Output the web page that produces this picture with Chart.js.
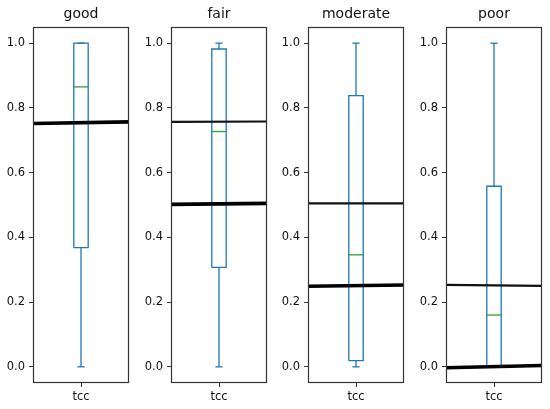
<!DOCTYPE html>
<html>
<head>
<meta charset="utf-8">
<script src="https://cdn.jsdelivr.net/npm/chart.js@4.4.1/dist/chart.umd.min.js"></script>
<style>
  html, body { margin: 0; padding: 0; background: #fff; }
  #wrap { position: relative; width: 550px; height: 409px; overflow: hidden; background: #fff; }
  canvas { position: absolute; top: 0; }
</style>
</head>
<body>
<div id="wrap"></div>
<script>
// ---- data ----
const categories   = ['good', 'fair', 'moderate', 'poor'];
const seriesName   = 'tcc';
const whiskerLow   = [0.0, 0.0, 0.0, 0.0];
const quartile1    = [0.368, 0.307, 0.019, 0.0];
const medians      = [0.865, 0.727, 0.346, 0.160];
const quartile3    = [1.0, 0.982, 0.838, 0.558];
const whiskerHigh  = [1.0, 1.0, 1.0, 1.0];
// reference lines: value at left edge / right edge of each panel
const thickLineStart = [0.752, 0.502, 0.249, -0.003];
const thickLineEnd   = [0.757, 0.505, 0.253, 0.004];
const thinLineStart  = [null, 0.757, 0.505, 0.253];
const thinLineEnd    = [null, 0.758, 0.505, 0.250];
const yTicks = [0.0, 0.2, 0.4, 0.6, 0.8, 1.0];

// ---- styling / layout ----
const BOX_HALF = 0.075, CAP_HALF = 0.0375;
const BLUE = '#1f77b4', GREEN = '#2ca02c';
const TEXT = '#111';
const FONT = 'DejaVu Sans';
const canvasLefts = [0, 138, 275, 413];
const CW = 137, CH = 409;

const framePlugin = {
  id: 'frame',
  afterDatasetsDraw(chart) {
    const a = chart.chartArea, c = chart.ctx;
    c.save();
    c.strokeStyle = '#333';
    c.lineWidth = 1.2;
    c.strokeRect(Math.round(a.left) + 0.5, Math.round(a.top) + 0.5,
                 Math.round(a.right - a.left) - 1, Math.round(a.bottom - a.top) - 1);
    c.restore();
  }
};

function seg(data, color, width, extra) {
  return Object.assign({
    data, borderColor: color, borderWidth: width, showLine: true,
    pointRadius: 0, tension: 0, fill: false, clip: 0
  }, extra || {});
}

categories.forEach((cat, i) => {
  const cv = document.createElement('canvas');
  cv.width = CW; cv.height = CH;
  cv.style.left = canvasLefts[i] + 'px';
  cv.style.width = CW + 'px'; cv.style.height = CH + 'px';
  document.getElementById('wrap').appendChild(cv);

  const datasets = [];
  datasets.push(seg([{x: 0.5, y: thickLineStart[i]}, {x: 1.5, y: thickLineEnd[i]}], '#000', 3.6));
  if (thinLineStart[i] !== null) {
    datasets.push(seg([{x: 0.5, y: thinLineStart[i]}, {x: 1.5, y: thinLineEnd[i]}], '#111', 2.2));
  }
  datasets.push(seg([{x: 1 - BOX_HALF, y: medians[i]}, {x: 1 + BOX_HALF, y: medians[i]}], GREEN, 1.3));
  datasets.push(seg([
    {x: 1 - BOX_HALF, y: quartile1[i]}, {x: 1 + BOX_HALF, y: quartile1[i]},
    {x: 1 + BOX_HALF, y: quartile3[i]}, {x: 1 - BOX_HALF, y: quartile3[i]},
    {x: 1 - BOX_HALF, y: quartile1[i]}], BLUE, 1.3));
  datasets.push(seg([{x: 1, y: whiskerLow[i]}, {x: 1, y: quartile1[i]}], BLUE, 1.3));
  datasets.push(seg([{x: 1, y: quartile3[i]}, {x: 1, y: whiskerHigh[i]}], BLUE, 1.3));
  datasets.push(seg([{x: 1 - CAP_HALF, y: whiskerLow[i]}, {x: 1 + CAP_HALF, y: whiskerLow[i]}], BLUE, 1.3));
  datasets.push(seg([{x: 1 - CAP_HALF, y: whiskerHigh[i]}, {x: 1 + CAP_HALF, y: whiskerHigh[i]}], BLUE, 1.3));

  new Chart(cv, {
    type: 'scatter',
    data: { datasets },
    plugins: [framePlugin],
    options: {
      responsive: false,
      animation: false,
      devicePixelRatio: 1,
      events: [],
      layout: { padding: { left: 0, right: CW - 33 - 96, top: 0, bottom: 0 } },
      plugins: {
        legend: { display: false },
        tooltip: { enabled: false },
        title: {
          display: true, text: cat, fullSize: false, color: TEXT,
          font: { family: FONT, size: 14, weight: 'normal', lineHeight: 1.2 },
          padding: { top: 6, bottom: 4.2 }
        }
      },
      scales: {
        x: {
          type: 'linear', min: 0.5, max: 1.5,
          afterBuildTicks: s => { s.ticks = [{ value: 1 }]; },
          afterFit: s => { s.height = 26; },
          ticks: { callback: () => seriesName, color: TEXT, padding: 3, maxRotation: 0,
                   font: { family: FONT, size: 11.5 } },
          grid: { drawOnChartArea: false, drawTicks: true, tickLength: 4, color: '#333', lineWidth: 1 },
          border: { display: false }
        },
        y: {
          type: 'linear', min: -0.05, max: 1.05,
          afterBuildTicks: s => { s.ticks = yTicks.map(v => ({ value: v })); },
          afterFit: s => { s.width = 33; },
          ticks: { callback: v => Number(v).toFixed(1), color: TEXT, padding: 4,
                   font: { family: FONT, size: 11.5 } },
          grid: { drawOnChartArea: false, drawTicks: true, tickLength: 4, color: '#333', lineWidth: 1 },
          border: { display: false }
        }
      }
    }
  });
});
</script>
</body>
</html>
